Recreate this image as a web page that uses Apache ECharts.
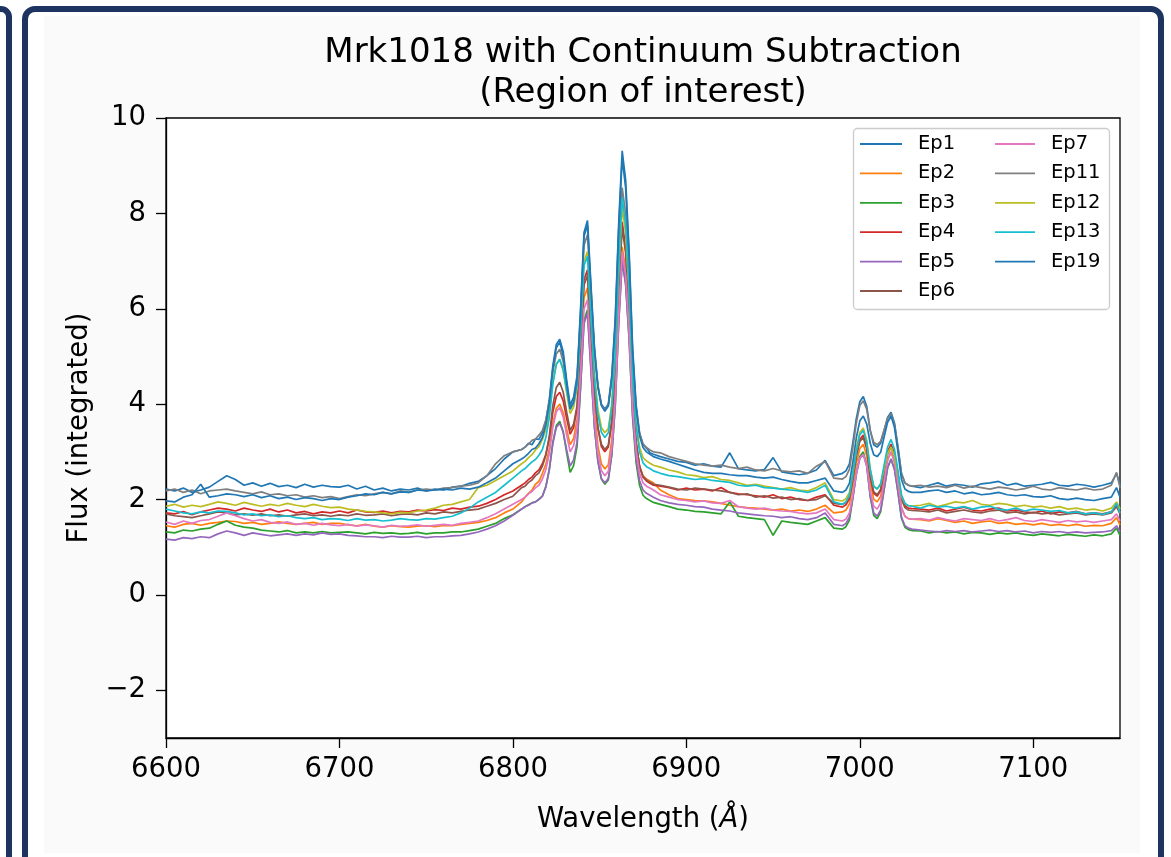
<!DOCTYPE html>
<html><head><meta charset="utf-8">
<script src="https://cdn.jsdelivr.net/npm/echarts@6.0.0/dist/echarts.min.js"></script>
<style>html,body{margin:0;padding:0;background:#fff}#chart{width:1171px;height:857px}</style>
</head><body><div id="chart"></div>
<script>
// Wavelength grid (Angstrom)
const wavelength = [
6600,6605,6610,6615,6620,6625,6630,6635,6640,6645,6650,6655,6660,6665,6670,6675,6680,6685,6690,6695,
6700,6705,6710,6715,6720,6725,6730,6735,6740,6745,6750,6755,6760,6765,6770,6775,6780,6785,6790,6795,6800,6805,
6807,6809,6811,6813,6815,6817,6819,6821,6823,6825,6827,6829,6831,6833,6835,6837,6839,6841,6843,6845,
6847,6849,6851,6853,6855,6857,6859,6861,6863,6865,6867,6869,6871,6873,6875,6877,6879,6881,
6885,6890,6895,6900,6905,6910,6915,6920,6925,6930,6935,6940,6945,6950,6955,6960,6965,6970,6975,6980,6985,6990,
6992,6994,6996,6998,7000,7002,7004,7006,7008,7010,7012,7014,7016,7018,7020,7022,7024,7026,7028,7030,
7035,7040,7045,7050,7055,7060,7065,7070,7075,7080,7085,7090,7095,7100,7105,7110,7115,7120,7125,7130,7135,7140,7145,7148,7150
];

const ep1 = [
2.22,2.18,2.24,2.15,2.2,2.26,2.38,2.5,2.42,2.3,2.35,2.28,2.34,2.27,2.3,2.25,2.32,2.26,2.3,2.27,2.26,2.3,2.22,2.28,2.2,2.24,2.18,2.22,2.2,2.24,2.18,2.22,2.2,2.26,2.28,2.34,2.38,2.5,2.65,2.85,3.0,3.05,
3.1,3.18,3.15,3.27,3.26,3.4,3.65,4.1,4.8,5.25,5.36,5.1,4.5,3.98,4.15,4.6,6.0,7.6,7.85,6.5,5.2,4.4,4.0,3.9,4.0,4.6,5.8,7.8,9.31,8.7,7.2,5.2,4.0,3.4,3.15,3.08,2.98,2.95,
2.9,2.85,2.8,2.78,2.72,2.75,2.7,2.68,2.98,2.65,2.62,2.6,2.63,2.88,2.58,2.55,2.52,2.55,2.62,2.82,2.5,2.55,
2.6,2.75,3.2,3.7,4.05,4.16,3.95,3.45,3.15,3.1,3.18,3.45,3.72,3.83,3.6,3.1,2.55,2.35,2.3,2.28,
2.25,2.3,2.35,2.28,2.32,2.3,2.26,2.33,2.35,2.38,2.3,2.34,2.28,2.3,2.32,2.36,2.3,2.28,2.32,2.3,2.26,2.3,2.35,2.55,2.3
];
const ep2 = [
1.45,1.42,1.48,1.5,1.46,1.5,1.52,1.55,1.54,1.5,1.52,1.48,1.5,1.53,1.5,1.48,1.5,1.52,1.48,1.5,1.5,1.47,1.45,1.48,1.44,1.42,1.45,1.43,1.42,1.44,1.45,1.43,1.46,1.45,1.48,1.5,1.52,1.56,1.62,1.72,1.8,1.95,
2.05,2.13,2.2,2.32,2.38,2.55,2.74,3.07,3.59,3.91,4.0,3.82,3.47,3.15,3.28,3.68,4.86,6.23,6.44,5.15,3.89,3.13,2.75,2.64,2.73,3.25,4.27,5.99,7.3,6.81,5.67,4.08,3.17,2.7,2.5,2.43,2.39,2.35,
2.2,2.1,2.02,2.0,1.98,1.97,1.95,1.92,1.88,1.85,1.83,1.82,1.8,1.78,1.8,1.76,1.78,1.75,1.8,1.88,1.72,1.74,
1.78,1.91,2.31,2.76,3.07,3.16,2.92,2.35,2.01,1.95,2.07,2.45,2.84,3.0,2.79,2.34,1.83,1.65,1.6,1.59,
1.58,1.55,1.6,1.56,1.52,1.55,1.5,1.53,1.55,1.5,1.52,1.48,1.5,1.47,1.5,1.46,1.48,1.45,1.48,1.44,1.46,1.45,1.5,1.62,1.47
];
const ep3 = [
1.32,1.3,1.36,1.34,1.38,1.4,1.48,1.55,1.46,1.42,1.4,1.36,1.34,1.32,1.35,1.3,1.32,1.3,1.33,1.3,1.31,1.32,1.3,1.28,1.31,1.29,1.3,1.28,1.29,1.31,1.28,1.3,1.3,1.32,1.32,1.35,1.38,1.44,1.5,1.6,1.68,1.8,
1.85,1.89,1.93,1.95,2.01,2.07,2.27,2.64,3.2,3.55,3.64,3.42,2.98,2.57,2.71,3.12,4.34,5.76,5.98,4.74,3.53,2.8,2.43,2.32,2.41,2.93,3.97,5.71,7.03,6.52,5.35,3.72,2.78,2.3,2.09,2.02,1.98,1.94,
1.9,1.85,1.8,1.78,1.75,1.74,1.72,1.7,1.95,1.65,1.62,1.6,1.58,1.25,1.55,1.52,1.5,1.48,1.55,1.62,1.4,1.38,
1.43,1.57,2.03,2.55,2.9,3.0,2.72,2.06,1.67,1.6,1.74,2.2,2.66,2.85,2.63,2.15,1.61,1.42,1.37,1.35,
1.34,1.3,1.33,1.3,1.32,1.28,1.31,1.3,1.27,1.3,1.28,1.3,1.27,1.25,1.28,1.26,1.24,1.27,1.25,1.23,1.26,1.24,1.28,1.4,1.25
];
const ep4 = [
1.72,1.7,1.75,1.68,1.74,1.78,1.82,1.8,1.76,1.82,1.78,1.75,1.8,1.74,1.78,1.72,1.75,1.7,1.74,1.72,1.76,1.72,1.78,1.74,1.73,1.76,1.72,1.75,1.74,1.78,1.76,1.79,1.77,1.82,1.8,1.84,1.86,1.92,2.0,2.1,2.18,2.3,
2.35,2.42,2.47,2.56,2.62,2.75,2.95,3.29,3.83,4.16,4.25,4.07,3.7,3.37,3.51,3.92,5.16,6.61,6.82,5.52,4.26,3.5,3.11,3.0,3.1,3.63,4.69,6.47,7.82,7.27,6.0,4.23,3.21,2.69,2.47,2.39,2.34,2.3,
2.28,2.25,2.2,2.24,2.2,2.22,2.18,2.25,2.15,2.12,2.1,2.08,2.05,2.1,2.02,2.05,2.0,1.98,2.05,2.1,1.88,1.84,
1.89,2.02,2.44,2.93,3.26,3.35,3.09,2.49,2.13,2.07,2.19,2.59,3.0,3.16,2.96,2.53,2.04,1.87,1.82,1.81,
1.8,1.78,1.82,1.76,1.8,1.84,1.78,1.76,1.8,1.82,1.76,1.78,1.74,1.72,1.76,1.7,1.74,1.72,1.75,1.7,1.72,1.7,1.74,1.88,1.72
];
const ep5 = [
1.17,1.15,1.2,1.18,1.22,1.2,1.28,1.34,1.3,1.25,1.3,1.27,1.24,1.26,1.28,1.25,1.28,1.26,1.3,1.27,1.28,1.25,1.24,1.22,1.22,1.2,1.23,1.21,1.21,1.23,1.2,1.22,1.22,1.24,1.25,1.28,1.32,1.38,1.45,1.55,1.67,1.8,
1.85,1.88,1.93,1.95,2.0,2.07,2.27,2.62,3.17,3.51,3.6,3.41,3.04,2.7,2.83,3.21,4.36,5.69,5.9,4.69,3.52,2.81,2.44,2.35,2.44,2.95,3.98,5.7,7.0,6.51,5.37,3.78,2.87,2.4,2.2,2.13,2.09,2.05,
1.98,1.93,1.9,1.88,1.85,1.84,1.8,1.78,1.76,1.72,1.7,1.68,1.66,1.65,1.62,1.64,1.6,1.58,1.62,1.72,1.48,1.45,
1.5,1.63,2.05,2.53,2.86,2.95,2.69,2.08,1.72,1.65,1.78,2.23,2.67,2.85,2.63,2.16,1.63,1.45,1.4,1.38,
1.36,1.34,1.32,1.35,1.33,1.35,1.32,1.34,1.36,1.33,1.35,1.32,1.34,1.3,1.33,1.31,1.33,1.3,1.32,1.3,1.31,1.32,1.35,1.45,1.32
];
const ep6 = [
1.7,1.66,1.64,1.62,1.66,1.7,1.74,1.72,1.68,1.7,1.67,1.7,1.66,1.68,1.65,1.68,1.7,1.66,1.68,1.65,1.68,1.66,1.7,1.67,1.68,1.7,1.66,1.69,1.7,1.68,1.72,1.7,1.74,1.72,1.75,1.78,1.8,1.86,1.92,2.0,2.07,2.25,
2.28,2.36,2.41,2.5,2.56,2.7,2.93,3.33,3.97,4.35,4.46,4.25,3.83,3.45,3.58,3.97,5.14,6.5,6.7,5.46,4.25,3.52,3.16,3.05,3.14,3.65,4.68,6.4,7.7,7.16,5.92,4.2,3.21,2.7,2.48,2.41,2.36,2.32,
2.3,2.26,2.22,2.2,2.24,2.22,2.2,2.18,2.15,2.1,2.12,2.05,2.08,2.03,2.05,2.0,2.02,1.98,2.0,2.08,1.92,1.9,
1.94,2.07,2.46,2.91,3.22,3.3,3.06,2.5,2.16,2.1,2.21,2.58,2.95,3.1,2.9,2.47,2.0,1.83,1.78,1.77,
1.76,1.74,1.78,1.72,1.75,1.78,1.74,1.72,1.76,1.78,1.72,1.74,1.7,1.73,1.7,1.72,1.68,1.7,1.72,1.68,1.7,1.68,1.72,1.85,1.7
];
const ep7 = [
1.53,1.48,1.55,1.5,1.56,1.58,1.65,1.72,1.66,1.6,1.55,1.58,1.52,1.5,1.53,1.48,1.5,1.46,1.5,1.47,1.45,1.48,1.44,1.47,1.45,1.42,1.46,1.44,1.45,1.47,1.44,1.46,1.48,1.46,1.5,1.52,1.55,1.62,1.7,1.8,1.9,2.0,
2.05,2.12,2.17,2.25,2.3,2.43,2.63,2.97,3.51,3.84,3.93,3.73,3.35,3.0,3.13,3.51,4.66,6.0,6.19,4.94,3.72,2.98,2.61,2.5,2.59,3.11,4.15,5.88,7.2,6.7,5.55,3.95,3.03,2.55,2.35,2.28,2.24,2.2,
2.1,2.05,2.0,1.98,1.95,1.97,1.93,1.92,1.98,1.85,1.82,1.8,1.82,1.78,1.76,1.75,1.72,1.7,1.72,1.8,1.58,1.55,
1.59,1.72,2.11,2.56,2.87,2.95,2.72,2.18,1.86,1.8,1.93,2.38,2.82,3.0,2.79,2.34,1.83,1.65,1.6,1.59,
1.6,1.57,1.62,1.58,1.55,1.6,1.58,1.56,1.6,1.55,1.58,1.62,1.56,1.54,1.58,1.55,1.52,1.56,1.53,1.55,1.52,1.55,1.58,1.7,1.55
];
const ep11 = [
2.18,2.22,2.15,2.2,2.12,2.18,2.2,2.22,2.18,2.15,2.12,2.16,2.1,2.12,2.08,2.1,2.05,2.08,2.04,2.06,2.02,2.06,2.1,2.08,2.12,2.15,2.12,2.18,2.15,2.2,2.22,2.2,2.24,2.25,2.28,2.3,2.35,2.5,2.75,2.92,3.0,3.05,
3.1,3.16,3.24,3.27,3.35,3.45,3.67,4.06,4.67,5.05,5.15,4.89,4.38,3.9,4.05,4.48,5.8,7.33,7.55,6.3,5.09,4.36,3.99,3.88,3.97,4.49,5.51,7.24,8.54,7.99,6.71,4.94,3.91,3.39,3.17,3.09,3.04,3.0,
2.98,2.9,2.85,2.8,2.75,2.72,2.7,2.72,2.68,2.65,2.68,2.62,2.6,2.65,2.6,2.58,2.6,2.55,2.7,2.8,2.45,2.43,
2.48,2.63,3.09,3.61,3.97,4.07,3.89,3.45,3.2,3.15,3.22,3.46,3.7,3.8,3.57,3.09,2.54,2.35,2.3,2.28,
2.3,2.26,2.28,2.25,2.3,2.24,2.28,2.25,2.22,2.26,2.24,2.2,2.23,2.28,2.22,2.2,2.25,2.22,2.2,2.24,2.2,2.22,2.3,2.57,2.25
];
const ep12 = [
1.86,1.9,1.84,1.88,1.85,1.9,1.95,1.92,1.88,1.94,1.9,1.86,1.9,1.87,1.92,1.88,1.85,1.9,1.86,1.83,1.84,1.8,1.78,1.75,1.74,1.72,1.7,1.73,1.72,1.76,1.78,1.82,1.88,1.9,1.95,2.0,2.25,2.3,2.4,2.5,2.6,2.75,
2.8,2.88,2.94,3.04,3.11,3.26,3.48,3.86,4.47,4.84,4.94,4.7,4.23,3.8,3.94,4.34,5.57,7.0,7.2,5.9,4.65,3.89,3.51,3.4,3.49,4.01,5.05,6.8,8.12,7.58,6.34,4.61,3.61,3.1,2.88,2.81,2.76,2.72,
2.68,2.62,2.58,2.52,2.5,2.46,2.48,2.42,2.4,2.35,2.3,2.32,2.28,2.25,2.22,2.25,2.2,2.18,2.25,2.35,2.0,1.97,
2.02,2.15,2.58,3.07,3.41,3.5,3.24,2.64,2.28,2.22,2.32,2.64,2.97,3.1,2.91,2.52,2.07,1.92,1.87,1.86,
1.88,1.92,1.85,1.9,1.95,1.93,1.98,1.9,1.88,1.92,1.9,1.85,1.88,1.84,1.86,1.82,1.85,1.8,1.82,1.78,1.8,1.76,1.82,1.95,1.8
];
const ep13 = [
1.8,1.76,1.72,1.7,1.74,1.72,1.76,1.75,1.72,1.68,1.7,1.66,1.68,1.64,1.66,1.62,1.6,1.62,1.58,1.6,1.59,1.56,1.6,1.57,1.58,1.55,1.57,1.6,1.58,1.57,1.6,1.59,1.62,1.65,1.72,1.82,1.95,2.05,2.15,2.3,2.45,2.6,
2.65,2.72,2.79,2.84,2.93,3.05,3.3,3.73,4.41,4.83,4.94,4.72,4.29,3.89,4.02,4.4,5.56,6.91,7.1,5.81,4.55,3.79,3.41,3.3,3.4,3.95,5.06,6.92,8.33,7.76,6.44,4.61,3.55,3.0,2.77,2.69,2.65,2.6,
2.55,2.5,2.48,2.45,2.42,2.44,2.4,2.38,2.36,2.3,2.28,2.3,2.25,2.24,2.22,2.2,2.18,2.15,2.2,2.3,1.95,1.9,
1.95,2.09,2.52,3.02,3.36,3.45,3.2,2.63,2.28,2.22,2.33,2.72,3.1,3.26,3.05,2.6,2.1,1.92,1.87,1.86,
1.82,1.88,1.84,1.86,1.82,1.85,1.8,1.84,1.86,1.8,1.78,1.82,1.76,1.8,1.78,1.75,1.77,1.72,1.74,1.7,1.72,1.69,1.74,1.92,1.72
];
const ep19 = [
1.97,1.95,2.05,2.1,2.32,2.05,2.08,2.12,2.1,2.06,2.1,2.04,2.08,2.02,2.05,2.0,2.04,2.02,1.98,2.02,2.0,2.05,2.08,2.12,2.1,2.15,2.12,2.16,2.15,2.2,2.18,2.2,2.22,2.2,2.24,2.22,2.26,2.35,2.45,2.6,2.75,2.85,
2.9,2.97,3.05,3.08,3.17,3.3,3.56,4.02,4.74,5.18,5.3,5.01,4.43,3.9,4.05,4.52,5.9,7.52,7.75,6.42,5.14,4.36,3.97,3.85,3.96,4.54,5.71,7.67,9.16,8.53,7.09,5.09,3.93,3.34,3.09,3.0,2.95,2.9,
2.85,2.8,2.74,2.68,2.62,2.57,2.55,2.55,2.52,2.5,2.5,2.47,2.45,2.47,2.42,2.38,2.35,2.35,2.4,2.45,2.18,2.15,
2.2,2.34,2.79,3.3,3.65,3.75,3.58,3.18,2.94,2.9,2.99,3.31,3.62,3.75,3.51,3.0,2.42,2.22,2.17,2.15,
2.15,2.18,2.2,2.15,2.18,2.12,2.15,2.1,2.12,2.15,2.1,2.08,2.1,2.06,2.05,2.08,2.02,2.0,2.03,2.0,1.98,2.02,2.05,2.25,2.05
];

const seriesNames = ['Ep1','Ep2','Ep3','Ep4','Ep5','Ep6','Ep7','Ep11','Ep12','Ep13','Ep19'];
const seriesValues = [ep1, ep2, ep3, ep4, ep5, ep6, ep7, ep11, ep12, ep13, ep19];
const xTicks = [6600, 6700, 6800, 6900, 7000, 7100];
const yTicks = [-2, 0, 2, 4, 6, 8, 10];
const legendCol1 = ['Ep1','Ep2','Ep3','Ep4','Ep5','Ep6'];
const legendCol2 = ['Ep7','Ep11','Ep12','Ep13','Ep19'];

// styles
const palette = ['#1f77b4','#ff7f0e','#2ca02c','#d62728','#9467bd','#8c564b','#e377c2','#7f7f7f','#bcbd22','#17becf','#1f77b4'];
const FONT = "'DejaVu Sans', sans-serif";
const NAVY = '#1d3461';

seriesValues.forEach((a, i) => { if (a.length !== wavelength.length) console.warn(seriesNames[i], a.length, wavelength.length); });

const series = seriesNames.map((name, i) => ({
  name: name,
  type: 'line',
  data: wavelength.map((w, j) => [w, seriesValues[i][j]]),
  symbol: 'none',
  showSymbol: false,
  smooth: false,
  lineStyle: { width: 1.7, color: palette[i] },
  itemStyle: { color: palette[i] },
  emphasis: { disabled: true },
  silent: true,
  z: 2
}));

const legendCommon = {
  orient: 'vertical',
  top: 134,
  padding: 0,
  icon: 'rect',
  itemHeight: 1.8,
  itemGap: 9.4,
  selectedMode: false,
  textStyle: { fontFamily: FONT, fontSize: 19.5, color: '#000', lineHeight: 20, padding: [0, 0, 0, 11] }
};

const chart = echarts.init(document.getElementById('chart'), null, { renderer: 'canvas' });
chart.setOption({
  backgroundColor: '#ffffff',
  animation: false,
  title: {
    text: 'Mrk1018 with Continuum Subtraction\n(Region of interest)',
    left: 643,
    top: 33,
    textAlign: 'center',
    padding: 0,
    textStyle: { fontFamily: FONT, fontSize: 34, fontWeight: 'normal', color: '#000', lineHeight: 40 }
  },
  graphic: [
    { type: 'rect', z: -10, silent: true, shape: { x: -20, y: 9, width: 29, height: 900, r: 8 }, style: { fill: 'none', stroke: NAVY, lineWidth: 6 } },
    { type: 'rect', z: -10, silent: true, shape: { x: 25, y: 9, width: 1136, height: 900, r: 10 }, style: { fill: '#ffffff', stroke: NAVY, lineWidth: 6 } },
    { type: 'rect', z: -9, silent: true, shape: { x: 44, y: 16, width: 1096, height: 837 }, style: { fill: '#fafafa' } },
    { type: 'rect', z: 3, silent: true, shape: { x: 853.5, y: 128.5, width: 256, height: 181, r: 4 }, style: { fill: 'rgba(255,255,255,0.8)', stroke: '#cccccc', lineWidth: 1.3 } }
  ],
  legend: [
    Object.assign({}, legendCommon, { left: 860, itemWidth: 42, data: legendCol1 }),
    Object.assign({}, legendCommon, { left: 995, itemWidth: 40, data: legendCol2 })
  ],
  grid: {
    left: 166, top: 118, width: 954, height: 620,
    show: true, backgroundColor: '#ffffff', borderColor: '#000', borderWidth: 1.3,
    containLabel: false, outerBoundsMode: 'none'
  },
  xAxis: {
    type: 'value', min: 6600, max: 7150,
    name: 'Wavelength ({i|Å})',
    nameLocation: 'middle', nameGap: 68,
    nameTextStyle: { fontFamily: FONT, fontSize: 27.5, color: '#000',
      rich: { i: { fontFamily: FONT, fontSize: 27.5, fontStyle: 'italic', color: '#000' } } },
    axisLine: { show: true, onZero: false, lineStyle: { color: '#000', width: 1.3 } },
    axisTick: { show: true, inside: false, length: 10, customValues: xTicks, lineStyle: { color: '#000', width: 1.3 } },
    axisLabel: { show: true, customValues: xTicks, margin: 18, fontFamily: FONT, fontSize: 27.5, color: '#000',
      formatter: v => String(v) },
    splitLine: { show: false }
  },
  yAxis: {
    type: 'value', min: -3, max: 10,
    name: 'Flux (integrated)',
    nameLocation: 'middle', nameGap: 72,
    nameTextStyle: { fontFamily: FONT, fontSize: 27.5, color: '#000' },
    axisLine: { show: true, onZero: false, lineStyle: { color: '#000', width: 1.3 } },
    axisTick: { show: true, inside: false, length: 10, customValues: yTicks, lineStyle: { color: '#000', width: 1.3 } },
    axisLabel: { show: true, customValues: yTicks, margin: 20, fontFamily: FONT, fontSize: 27.5, color: '#000',
      formatter: v => (v < 0 ? '\u2212' + Math.abs(v) : String(v)) },
    splitLine: { show: false }
  },
  series: series
});
</script>
</body></html>
